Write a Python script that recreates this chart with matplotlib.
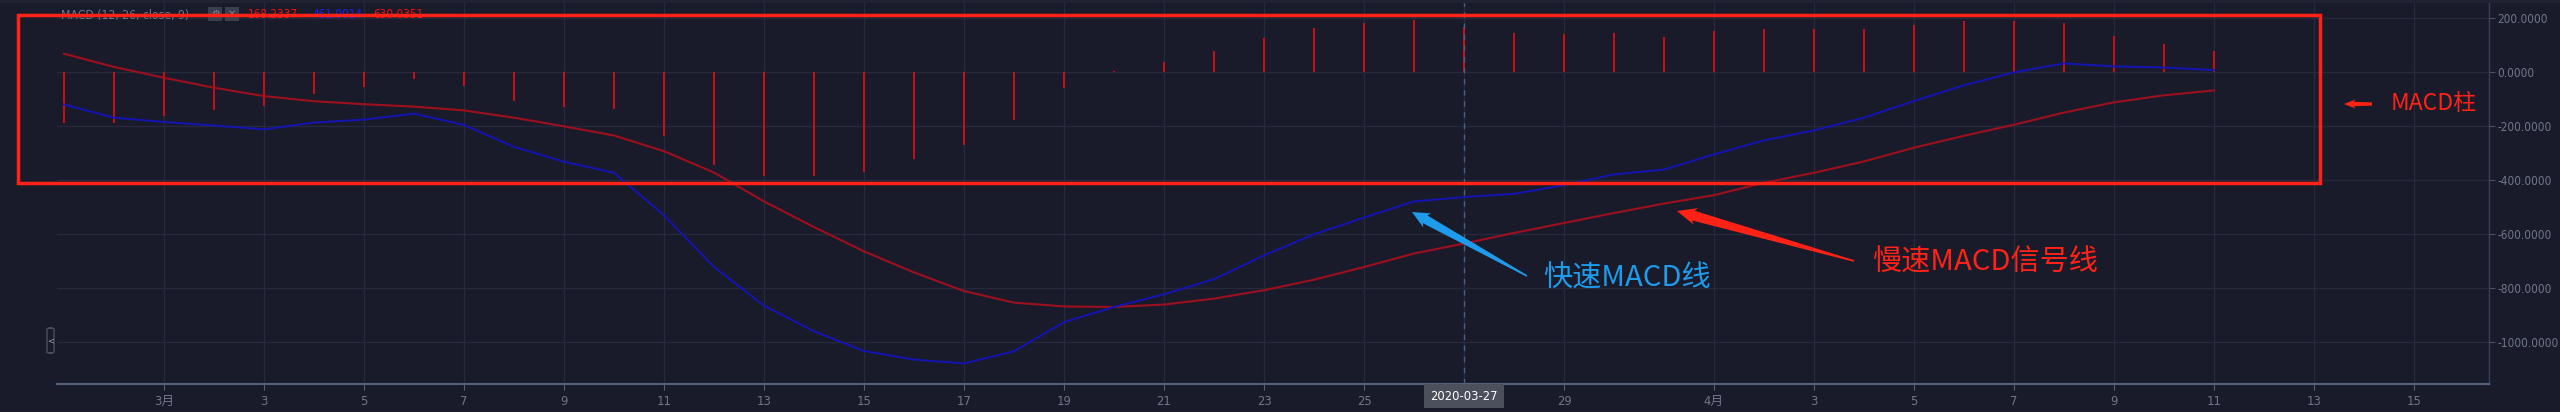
import matplotlib
matplotlib.use('Agg')
import matplotlib.pyplot as plt
import matplotlib.dates as mdates
from matplotlib import font_manager
from matplotlib.font_manager import FontProperties
from matplotlib.textpath import TextPath
from matplotlib.patches import Rectangle, Polygon, FancyBboxPatch
import numpy as np
import pandas as pd

# ---------------- data ----------------
dates = pd.date_range('2020-02-28', '2020-04-11', freq='D')

macd_fast = [-121, -170, -186, -199, -213, -188, -177, -155, -197, -278,
             -333, -374, -531, -723, -866, -961, -1034, -1066, -1080, -1035,
             -927, -871, -824, -768, -680, -602, -540, -480, -464, -452,
             -420, -380, -362, -306, -254, -217, -170, -108, -50, -2,
             31, 20, 16, 6]

signal_slow = [67, 18, -22, -59, -90, -109, -120, -129, -143, -170,
               -202, -236, -294, -373, -480, -575, -665, -743, -812, -855,
               -869, -871, -862, -840, -809, -770, -723, -673, -636, -597,
               -560, -523, -488, -457, -411, -374, -332, -281, -237, -196,
               -151, -113, -87, -69]

histogram = [-190, -190, -164, -140, -127, -82, -56, -27, -53, -108,
             -130, -138, -238, -345, -386, -386, -371, -323, -272, -178,
             -60, 2, 36, 76, 125, 161, 180, 191, 166, 143,
             139, 143, 128, 150, 157, 157, 159, 173, 187, 188,
             180, 133, 103, 76]

tick_dates = ['2020-03-01', '2020-03-03', '2020-03-05', '2020-03-07', '2020-03-09',
              '2020-03-11', '2020-03-13', '2020-03-15', '2020-03-17', '2020-03-19',
              '2020-03-21', '2020-03-23', '2020-03-25', '2020-03-27', '2020-03-29',
              '2020-04-01', '2020-04-03', '2020-04-05', '2020-04-07', '2020-04-09',
              '2020-04-11', '2020-04-13', '2020-04-15']
tick_labels = ['3月', '3', '5', '7', '9', '11', '13', '15', '17', '19', '21', '23',
               '25', '', '29', '4月', '3', '5', '7', '9', '11', '13', '15']

y_ticks = [200, 0, -200, -400, -600, -800, -1000]
y_tick_labels = ['200.0000', '0.0000', '-200.0000', '-400.0000', '-600.0000',
                 '-800.0000', '-1000.0000']

crosshair_date = '2020-03-27'
header_title = 'MACD (12, 26, close, 9) ·'
header_values = ['168.2337', '461.0014', '630.0351']

label_hist = 'MACD柱'
label_fast = '快速MACD线'
label_slow = '慢速MACD信号线'

# ---------------- style ----------------
W, H = 2560, 412
BG = '#191b2b'
GRID = '#262a3b'
AXIS = '#56627c'
TXT = '#6f778a'
HIST_C = '#cc0f18'
SLOW_C = '#9e0f1e'
FAST_C = '#1414b4'
ANN_RED = '#ff2216'
ANN_BLUE = '#1e9bea'

# pick a narrow face: prefer Liberation Sans Narrow, then any Narrow/Condensed regular face
fonts = font_manager.fontManager.ttflist
def is_regular(f):
    return f.style == 'normal' and f.weight in (400, 'normal', 'regular', 'book')
narrow_name, narrow_stretch = 'Roboto', 'normal'
cands = [f for f in fonts if is_regular(f) and f.name == 'Liberation Sans Narrow']
if not cands:
    cands = [f for f in fonts if is_regular(f) and ('Narrow' in f.name or 'Condensed' in f.name
             or str(f.stretch) in ('condensed', 'semi-condensed'))]
if cands:
    narrow_name, narrow_stretch = cands[0].name, cands[0].stretch

plt.rcParams['font.family'] = [narrow_name, 'Noto Sans CJK SC', 'DejaVu Sans']
plt.rcParams['font.stretch'] = narrow_stretch

def width_px(s, fs):
    fp = FontProperties(family=narrow_name, stretch=narrow_stretch, size=fs)
    return TextPath((0, 0), s, size=fs, prop=fp).get_extents().width * 100 / 72

def fit_size(s, target_px, cap):
    return min(cap, 10.0 * target_px / width_px(s, 10.0))

small_fs = min(fit_size('200.0000', 49, 9.5), fit_size('-1000.0000', 61, 9.5))
head_fs = fit_size('MACD (12, 26, close, 9)', 126, 10)
val_fs = fit_size('168.2337', 48, 10.5)
xtick_fs = 9.3

fig = plt.figure(figsize=(W / 100, H / 100), dpi=100, facecolor=BG)

def fx(x):
    return x / W

def fy(y):
    return 1 - y / H

ax_left, ax_right, ax_top, ax_bot = 57, 2489, 3, 384.3
ax = fig.add_axes([fx(ax_left), fy(ax_bot), fx(ax_right - ax_left), (ax_bot - ax_top) / H])
ax.set_facecolor(BG)

x = mdates.date2num(dates)
mar1 = mdates.date2num(pd.Timestamp('2020-03-01'))
ax.set_xlim(mar1 - 2.14, mar1 + 46.5)
ax.set_ylim(-1157.4, 254.8)

# grid
xt = mdates.date2num(pd.to_datetime(tick_dates))
ax.set_xticks(xt)
ax.set_xticklabels(tick_labels)
ax.set_yticks(y_ticks)
ax.set_yticklabels(y_tick_labels)
ax.grid(True, color=GRID, lw=1.0, zorder=0)
ax.set_axisbelow(True)

# histogram
ax.vlines(x, 0, histogram, color=HIST_C, lw=1.4, zorder=2)
# lines
ax.plot(x, signal_slow, color=SLOW_C, lw=1.5, zorder=3)
ax.plot(x, macd_fast, color=FAST_C, lw=1.4, zorder=4)

# crosshair
xc = mdates.date2num(pd.Timestamp(crosshair_date))
ax.axvline(xc, color='#45627f', lw=1.0, ls=(0, (4, 4)), zorder=5)
ax.text(xc, -0.031, crosshair_date, transform=ax.get_xaxis_transform(), ha='center',
        va='center', color='white', fontsize=xtick_fs, zorder=10, clip_on=False,
        bbox=dict(boxstyle='square,pad=0.45', fc='#4c505c', ec='none'))

# axes styling
for s in ['top', 'left']:
    ax.spines[s].set_visible(False)
ax.spines['bottom'].set_color(AXIS)
ax.spines['bottom'].set_linewidth(1.5)
ax.spines['right'].set_color('#39405a')
ax.spines['right'].set_linewidth(1.0)
ax.yaxis.tick_right()
ax.tick_params(axis='y', length=4, color='#4a5266', pad=2, labelcolor=TXT, labelsize=small_fs)
ax.tick_params(axis='x', length=4, color=AXIS, pad=4, labelcolor=TXT, labelsize=xtick_fs)

# top band
fig.add_artist(Rectangle((0, fy(3)), 1, 3 / H, transform=fig.transFigure, fc='#1f2233', ec='none'))

# header
fig.text(fx(61), fy(15), header_title, color='#727889', fontsize=head_fs, va='center', ha='left')
for x0, glyph in [(208, '⚙'), (225, '✕')]:
    fig.add_artist(Rectangle((fx(x0), fy(21)), fx(14), 14 / H, transform=fig.transFigure,
                             fc='#3a3e4d', ec='none'))
    fig.text(fx(x0 + 7), fy(14), glyph, color='#80858f', fontsize=7, ha='center', va='center',
             family=['DejaVu Sans'], stretch='normal')
for xv, val, col in [(248, header_values[0], '#f01010'), (312, header_values[1], '#1a22f0'),
                     (373, header_values[2], '#f01010')]:
    fig.text(fx(xv), fy(15), val, color=col, fontsize=val_fs, va='center', ha='left')

# small left button
fig.add_artist(FancyBboxPatch((fx(47), fy(353)), fx(7), 25 / H, boxstyle='round,pad=0,rounding_size=0.002',
                              transform=fig.transFigure, fc=BG, ec='#4a4e5c', lw=1))
fig.text(fx(50.7), fy(341), '<', color='#9aa0ad', fontsize=6, ha='center', va='center',
         family=['DejaVu Sans'], stretch='normal')

# ---------------- annotations ----------------
# red box
fig.add_artist(Rectangle((fx(18), fy(183)), fx(2320 - 18), (183 - 14.7) / H, transform=fig.transFigure,
                         fill=False, ec=ANN_RED, lw=2.5, zorder=20))

def wedge_arrow(tip, tail, head_len, head_hw, shaft_hw, tail_hw, color):
    tip = np.array(tip, float)
    tail = np.array(tail, float)
    d = tail - tip
    u = d / np.hypot(*d)
    n = np.array([-u[1], u[0]])
    base = tip + u * head_len
    barb = tip + u * (head_len * 1.15)
    pts = [tip, barb + n * head_hw, base + n * shaft_hw, tail + n * tail_hw,
           tail - n * tail_hw, base - n * shaft_hw, barb - n * head_hw]
    pts = [(fx(p[0]), fy(p[1])) for p in pts]
    fig.add_artist(Polygon(pts, closed=True, transform=fig.transFigure, fc=color, ec='none', zorder=21))

wedge_arrow((1412, 212), (1527, 276), 15, 8, 4.5, 0.8, ANN_BLUE)
wedge_arrow((1677, 211), (1854, 261), 17, 8.5, 5, 0.8, ANN_RED)
wedge_arrow((2344, 104), (2372, 104), 10, 4.5, 2.2, 1.6, ANN_RED)

cjk = ['Noto Sans CJK SC', 'DejaVu Sans']
fig.text(fx(2391), fy(104), label_hist, color=ANN_RED, fontsize=16.5, ha='left', va='center',
         family=cjk, stretch='normal', zorder=22)
fig.text(fx(1543), fy(279), label_fast, color=ANN_BLUE, fontsize=21, ha='left', va='center',
         family=cjk, stretch='normal', zorder=22)
fig.text(fx(1872), fy(263), label_slow, color=ANN_RED, fontsize=21, ha='left', va='center',
         family=cjk, stretch='normal', zorder=22)

fig.savefig('out.png', dpi=100, facecolor=BG)
